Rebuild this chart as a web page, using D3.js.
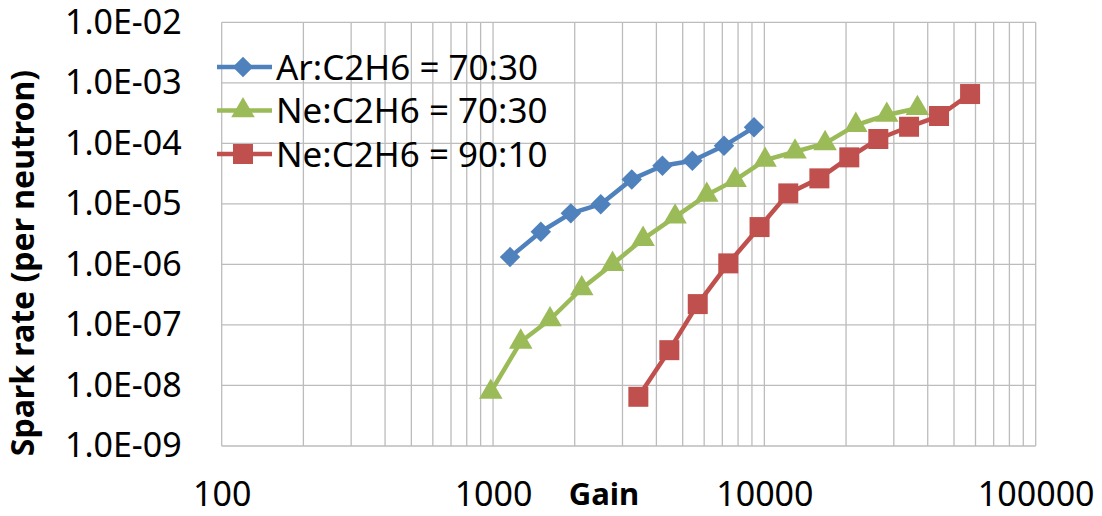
<!DOCTYPE html>
<html>
  <head>
  <title>Spark rate vs gain</title>
  </head>
  <body>
  <style>
    body, html {
      margin: 0;
      padding: 0;
      background: #fff;
    }
    text {
      font-family: "Noto Sans", "Open Sans", sans-serif;
    }
  </style>

  <svg id="svg" width="1102" height="516"></svg>

  <script src="https://cdn.jsdelivr.net/npm/d3@7"></script>
  <script>
    // values
    const arGain = [1155, 1500, 1935, 2495, 3245, 4210, 5430, 7100, 9160]
    const arRate = [1.32e-6, 3.46e-6, 6.97e-6, 9.9e-6, 2.54e-5, 4.27e-5, 5.16e-5, 9.1e-5, 1.84e-4]

    const ne73Gain = [981, 1265, 1622, 2123, 2757, 3573, 4688, 6133, 7801, 10060, 12970, 16740, 21730, 28260, 36650]
    const ne73Rate = [7.8e-9, 5.26e-8, 1.23e-7, 4.0e-7, 1.01e-6, 2.62e-6, 6.12e-6, 1.4e-5, 2.47e-5, 5.3e-5, 7.26e-5, 1.0e-4, 2.0e-4, 2.94e-4, 3.8e-4]

    const ne91Gain = [3432, 4464, 5682, 7362, 9600, 12250, 15950, 20560, 26300, 34140, 44030, 57300]
    const ne91Rate = [6.5e-9, 3.83e-8, 2.21e-7, 1.04e-6, 4.14e-6, 1.49e-5, 2.64e-5, 5.87e-5, 1.18e-4, 1.88e-4, 2.83e-4, 6.53e-4]

    const seriesNames = ['Ar:C2H6 = 70:30', 'Ne:C2H6 = 70:30', 'Ne:C2H6 = 90:10']
    const xTicks = [100, 1000, 10000, 100000]
    const yTicks = [1e-9, 1e-8, 1e-7, 1e-6, 1e-5, 1e-4, 1e-3, 1e-2]

    // diamond = square turned by 45 degrees
    const series = [
      { name: seriesNames[0], gain: arGain, rate: arRate, color: '#4f81bd', symbol: d3.symbolSquare, size: 210, rot: 45 },
      { name: seriesNames[1], gain: ne73Gain, rate: ne73Rate, color: '#9bbb59', symbol: d3.symbolTriangle, size: 240, rot: 0 },
      { name: seriesNames[2], gain: ne91Gain, rate: ne91Rate, color: '#c0504d', symbol: d3.symbolSquare, size: 400, rot: 0 }
    ]

    const plotLeft = 221.7
    const plotRight = 1035.7
    const plotTop = 22.3
    const plotBottom = 446

    const xScale = d3.scaleLog().domain([100, 100000]).range([plotLeft, plotRight])
    const yScale = d3.scaleLog().domain([1e-9, 1e-2]).range([plotBottom, plotTop])

    const svg = d3.select('#svg')

    // grid: every minor step on x, decades on y
    const xGrid = []
    for (let dec = 100; dec < 100000; dec *= 10) {
      for (let m = 1; m < 10; m++) xGrid.push(dec * m)
    }
    xGrid.push(100000)

    const grid = svg.append('g')
      .attr('stroke', '#bcbcbc')
      .attr('stroke-width', 1.3)
    grid.selectAll('.vx')
      .data(xGrid)
      .join('line')
      .attr('x1', d => xScale(d))
      .attr('x2', d => xScale(d))
      .attr('y1', plotTop)
      .attr('y2', plotBottom)
    grid.selectAll('.hy')
      .data(yTicks)
      .join('line')
      .attr('x1', plotLeft)
      .attr('x2', plotRight)
      .attr('y1', d => yScale(d))
      .attr('y2', d => yScale(d))

    // axes (labels only)
    const expFormat = d => {
      const e = Math.round(Math.log10(d))
      const s = String(Math.abs(e)).padStart(2, '0')
      return '1.0E' + (e < 0 ? '-' : '+') + s
    }

    svg.append('g')
      .attr('transform', `translate(0, ${plotBottom})`)
      .call(d3.axisBottom(xScale).tickValues(xTicks).tickFormat(d3.format('d')).tickSize(0).tickPadding(36))
    svg.append('g')
      .attr('transform', `translate(${plotLeft}, 0)`)
      .call(d3.axisLeft(yScale).tickValues(yTicks).tickFormat(expFormat).tickSize(0).tickPadding(40))

    svg.selectAll('.domain').remove()
    svg.selectAll('.tick text')
      .attr('fill', '#000')
      .style('font-size', '34px')
      .style('font-family', '"Noto Sans", sans-serif')

    // axis titles
    svg.append('text')
      .attr('x', 604)
      .attr('y', 505)
      .attr('text-anchor', 'middle')
      .style('font-size', '31px')
      .style('font-weight', 'bold')
      .text('Gain')

    svg.append('text')
      .attr('transform', 'translate(34, 263) rotate(-90)')
      .attr('text-anchor', 'middle')
      .style('font-size', '32px')
      .style('font-weight', 'bold')
      .text('Spark rate (per neutron)')

    // lines and markers
    const linegen = d3.line()
      .x(d => xScale(d[0]))
      .y(d => yScale(d[1]))

    series.forEach(s => {
      const pts = s.gain.map((g, i) => [g, s.rate[i]])
      svg.append('path')
        .attr('d', linegen(pts))
        .attr('fill', 'none')
        .attr('stroke', s.color)
        .attr('stroke-width', 4.5)
        .attr('stroke-linejoin', 'round')
      svg.append('g')
        .selectAll('path')
        .data(pts)
        .join('path')
        .attr('transform', d => `translate(${xScale(d[0])}, ${yScale(d[1])}) rotate(${s.rot})`)
        .attr('d', d3.symbol().type(s.symbol).size(s.size))
        .attr('fill', s.color)
    })

    // legend
    const legend = svg.append('g')
      .attr('transform', 'translate(217, 67)')
    series.forEach((s, i) => {
      const row = legend.append('g')
        .attr('transform', `translate(0, ${i * 43.5})`)
      row.append('line')
        .attr('x1', 0)
        .attr('x2', 55)
        .attr('stroke', s.color)
        .attr('stroke-width', 4.5)
      row.append('path')
        .attr('transform', `translate(26, 0) rotate(${s.rot})`)
        .attr('d', d3.symbol().type(s.symbol).size(s.size))
        .attr('fill', s.color)
      row.append('text')
        .attr('x', 59)
        .attr('y', 0)
        .attr('dy', '0.36em')
        .style('font-size', '35px')
        .text(s.name)
    })
  </script>
  </body>
</html>
